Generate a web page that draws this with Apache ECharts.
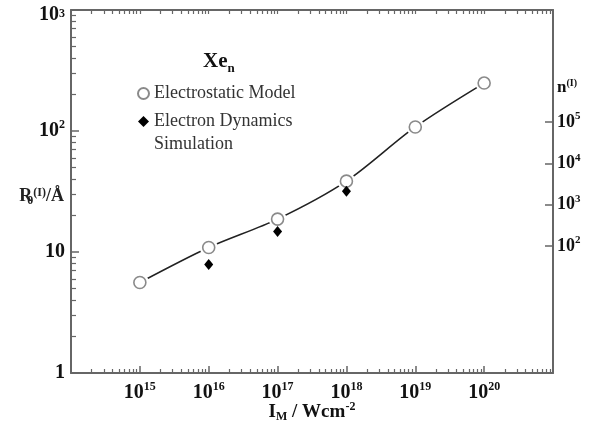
<!DOCTYPE html>
<html><head><meta charset="utf-8">
<script src="https://cdn.jsdelivr.net/npm/echarts@6/dist/echarts.min.js"></script>
<style>html,body{margin:0;padding:0;background:#fff}#c{width:605px;height:425px}</style>
</head><body><div id="c"></div>
<script>
// ---- data ----
const intensity = [1e15, 1e16, 1e17, 1e18, 1e19, 1e20];
const electrostatic = [5.6, 10.9, 18.7, 38.5, 108, 249];
const edIntensity = [1e16, 1e17, 1e18];
const electronDynamics = [7.9, 14.8, 31.8];
const xTickValues = [1e15, 1e16, 1e17, 1e18, 1e19, 1e20];
const yTickValues = [1, 10, 100, 1000];
const nTickValues = [1e2, 1e3, 1e4, 1e5];
const xDecades = [14, 15, 16, 17, 18, 19, 20];
const yDecades = [0, 1, 2];
const minorMult = [2, 3, 4, 5, 6, 7, 8, 9];

const xMinor = [];
xDecades.forEach(d => minorMult.forEach(m => xMinor.push(m * Math.pow(10, d))));
const yMinor = [];
yDecades.forEach(d => minorMult.forEach(m => yMinor.push(m * Math.pow(10, d))));

const SERIF = "'Liberation Serif','Times New Roman',serif";
const AX = '#666';
const rich = {
  b: {fontFamily: SERIF, fontWeight: 'bold', fontSize: 20, lineHeight: 24, color: '#111'},
  s: {fontFamily: SERIF, fontWeight: 'bold', fontSize: 12, lineHeight: 14, verticalAlign: 'top', color: '#111'},
  bt: {fontFamily: SERIF, fontWeight: 'bold', fontSize: 20, lineHeight: 24, padding: [10, 0, 0, 0], color: '#111'},
  st: {fontFamily: SERIF, fontWeight: 'bold', fontSize: 12, lineHeight: 14, padding: [10, 0, 0, 0], verticalAlign: 'top', color: '#111'}
};
const expOf = v => Math.round(Math.log10(v));
const powLabel = v => '{b|10}{s|' + expOf(v) + '}';

const chart = echarts.init(document.getElementById('c'), null, {renderer: 'canvas'});
const pairs = (xs, ys) => xs.map((x, i) => [x, ys[i]]);

const baseX = {
  type: 'log', logBase: 10, min: 1e14, max: 1e21, gridIndex: 0,
  splitLine: {show: false}
};
const baseY = {
  type: 'log', logBase: 10, min: 1, max: 1000, gridIndex: 0,
  splitLine: {show: false}
};

chart.setOption({
  animation: false,
  backgroundColor: '#fff',
  title: {
    text: '{b|Xe}{s|n}', left: 203, top: 49, padding: 0,
    textStyle: {rich: {
      b: {fontFamily: SERIF, fontWeight: 'bold', fontSize: 21, lineHeight: 26, color: '#111'},
      s: {fontFamily: SERIF, fontWeight: 'bold', fontSize: 13, lineHeight: 12, verticalAlign: 'bottom', color: '#111'}
    }}
  },
  legend: {
    orient: 'vertical', left: 137, top: 82, padding: 0, itemWidth: 11, itemHeight: 11, itemGap: -18,
    textStyle: {fontFamily: SERIF, fontSize: 18, color: '#333', lineHeight: 23, rich: {
      p: {fontFamily: SERIF, fontSize: 18, lineHeight: 23},
      a: {fontFamily: SERIF, fontSize: 18, lineHeight: 23, color: '#333'}
    }},
    formatter: n => n === 'Electron Dynamics Simulation' ? '{p| }\n{a|Electron Dynamics}\n{a|Simulation}' : n,
    data: [
      {name: 'Electrostatic Model', icon: 'circle'},
      {name: 'Electron Dynamics Simulation', icon: 'diamond'}
    ]
  },
  grid: {left: 71, right: 52, top: 10, bottom: 52, containLabel: false, outerBoundsMode: 'none'},
  xAxis: [
    Object.assign({}, baseX, {
      position: 'bottom',
      axisLine: {lineStyle: {color: AX, width: 2}},
      axisTick: {inside: true, length: 7, customValues: xTickValues, lineStyle: {color: AX, width: 1.5}},
      axisLabel: {customValues: xTickValues, formatter: v => powLabel(v), rich: rich, margin: 8},
      name: '{b|I}{sb|M}{b| / Wcm}{sp|-2}', nameLocation: 'middle', nameGap: 28, nameMoveOverlap: false,
      nameTextStyle: {rich: {
        b: {fontFamily: SERIF, fontWeight: 'bold', fontSize: 19, lineHeight: 22, color: '#111'},
        sb: {fontFamily: SERIF, fontWeight: 'bold', fontSize: 12, lineHeight: 8, verticalAlign: 'bottom', color: '#111'},
        sp: {fontFamily: SERIF, fontWeight: 'bold', fontSize: 12, lineHeight: 14, verticalAlign: 'top', color: '#111'}
      }}
    }),
    Object.assign({}, baseX, {
      position: 'bottom',
      axisLine: {show: false},
      axisTick: {inside: true, length: 4, customValues: xMinor, lineStyle: {color: AX, width: 1.2}},
      axisLabel: {show: false}
    }),
    Object.assign({}, baseX, {
      position: 'top',
      axisLine: {lineStyle: {color: AX, width: 2}},
      axisTick: {inside: true, length: 4, customValues: xMinor.concat(xTickValues), lineStyle: {color: AX, width: 1.2}},
      axisLabel: {show: false}
    })
  ],
  yAxis: [
    Object.assign({}, baseY, {
      position: 'left',
      axisLine: {lineStyle: {color: AX, width: 2}},
      axisTick: {inside: true, length: 8, customValues: yTickValues, lineStyle: {color: AX, width: 1.5}},
      axisLabel: {customValues: yTickValues, margin: 6, rich: rich,
        formatter: v => v < 50 ? '{b|' + Math.round(v) + '}'
          : (v > 500 ? '{bt|10}{st|' + expOf(v) + '}' : powLabel(v))},
      name: '{r|R}{z|0}{s|(I)}{r|/Å}', nameLocation: 'middle', nameRotate: 0, nameGap: 7, nameMoveOverlap: false,
      nameTextStyle: {padding: [10, 0, 0, 0], rich: {
        r: {fontFamily: SERIF, fontWeight: 'bold', fontSize: 18, lineHeight: 20, color: '#222'},
        z: {fontFamily: SERIF, fontWeight: 'bold', fontSize: 12, lineHeight: 6, verticalAlign: 'bottom', width: 1, color: '#222'},
        s: {fontFamily: SERIF, fontWeight: 'bold', fontSize: 12, lineHeight: 12, verticalAlign: 'top', color: '#222'}
      }}
    }),
    Object.assign({}, baseY, {
      position: 'left',
      axisLine: {show: false},
      axisTick: {inside: true, length: 5, customValues: yMinor, lineStyle: {color: AX, width: 1.2}},
      axisLabel: {show: false}
    }),
    {
      type: 'log', logBase: 10, min: 0.0861, max: 5.07e7, gridIndex: 0, position: 'right',
      splitLine: {show: false},
      axisLine: {lineStyle: {color: AX, width: 2}},
      axisTick: {inside: true, length: 8, customValues: nTickValues, lineStyle: {color: AX, width: 1.5}},
      axisLabel: {customValues: nTickValues, formatter: v => powLabel(v), rich: {
        b: {fontFamily: SERIF, fontWeight: 'bold', fontSize: 18, lineHeight: 22, color: '#111'},
        s: {fontFamily: SERIF, fontWeight: 'bold', fontSize: 11, lineHeight: 12, verticalAlign: 'top', color: '#111'}
      }, margin: 4},
      name: '{b|n}{s|(I)}', nameLocation: 'end', nameGap: -78, nameMoveOverlap: false,
      nameTextStyle: {align: 'left', verticalAlign: 'middle', padding: [0, 0, 0, 4], rich: {
        b: {fontFamily: SERIF, fontWeight: 'bold', fontSize: 17, lineHeight: 20, color: '#111'},
        s: {fontFamily: SERIF, fontWeight: 'bold', fontSize: 10, lineHeight: 11, verticalAlign: 'top', color: '#111'}
      }}
    }
  ],
  series: [
    {
      name: 'curve', type: 'line', xAxisIndex: 0, yAxisIndex: 0, smooth: 0.3,
      symbol: 'none', silent: true, z: 2,
      lineStyle: {color: '#222', width: 1.6},
      data: pairs(intensity, electrostatic)
    },
    {
      name: 'halo', type: 'scatter', xAxisIndex: 0, yAxisIndex: 0, silent: true, z: 3,
      symbol: 'circle', symbolSize: 18, itemStyle: {color: '#fff', opacity: 1},
      data: pairs(intensity, electrostatic)
    },
    {
      name: 'Electrostatic Model', type: 'scatter', xAxisIndex: 0, yAxisIndex: 0, z: 4,
      symbol: 'circle', symbolSize: 12,
      itemStyle: {color: '#fff', borderColor: '#8a8a8a', borderWidth: 1.6, opacity: 1},
      data: pairs(intensity, electrostatic)
    },
    {
      name: 'Electron Dynamics Simulation', type: 'scatter', xAxisIndex: 0, yAxisIndex: 0, z: 5,
      symbol: 'diamond', symbolSize: [9, 11],
      itemStyle: {color: '#000', opacity: 1},
      data: pairs(edIntensity, electronDynamics)
    }
  ]
});
</script>
</body></html>
